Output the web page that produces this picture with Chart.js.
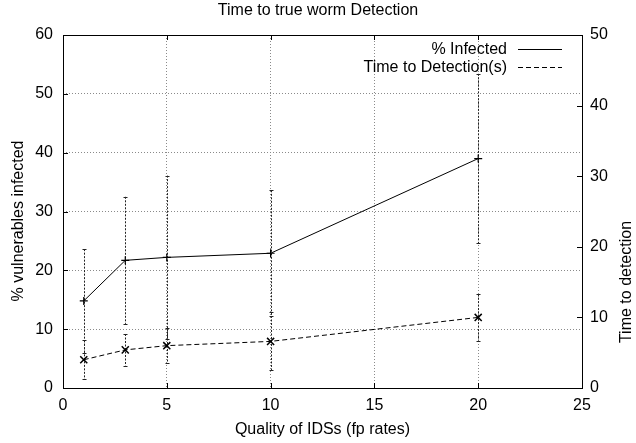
<!DOCTYPE html>
<html>
<head>
<meta charset="utf-8">
<title>Time to true worm Detection</title>
<script src="https://cdn.jsdelivr.net/npm/chart.js@4.4.0/dist/chart.umd.min.js"></script>
<style>
  html, body { margin: 0; padding: 0; background: #fff; }
  #wrap { width: 636px; height: 443px; }
</style>
</head>
<body>
<div id="wrap"><canvas id="wormChart" width="636" height="443"></canvas></div>
<script>
// values
const fpRates = [1, 3, 5, 10, 20];
const infectedPct = [14.8, 21.7, 22.2, 22.9, 39.0];
const infectedErr = [8.8, 10.8, 13.9, 10.7, 14.4];
const detectionSec = [4.0, 5.4, 6.0, 6.6, 10.0];
const detectionErr = [2.75, 2.25, 2.5, 4.1, 3.3];

const xTicks = [0, 5, 10, 15, 20, 25];
const leftTicks = [0, 10, 20, 30, 40, 50, 60];
const rightTicks = [0, 10, 20, 30, 40, 50];

const FONT = "'Liberation Sans', Arial, Helvetica, sans-serif";
Chart.defaults.font.family = FONT;
Chart.defaults.font.size = 16;
Chart.defaults.color = '#000';

function toPoints(xs, ys) {
    return xs.map((x, i) => ({ x: x, y: ys[i] }));
}

// dotted vertical error bars with small caps
const errorBars = {
    id: 'errorBars',
    beforeDatasetsDraw(chart) {
        const ctx = chart.ctx;
        const xScale = chart.scales.x;
        chart.data.datasets.forEach(ds => {
            const yScale = chart.scales[ds.yAxisID];
            ctx.save();
            ctx.strokeStyle = '#222';
            ctx.lineWidth = 1;
            ds.data.forEach((pt, j) => {
                const err = ds.errors[j];
                const px = Math.round(xScale.getPixelForValue(pt.x)) + 0.5;
                const top = yScale.getPixelForValue(pt.y + err);
                const bot = yScale.getPixelForValue(pt.y - err);
                ctx.setLineDash([2, 1.5]);
                ctx.beginPath();
                ctx.moveTo(px, top);
                ctx.lineTo(px, bot);
                ctx.stroke();
                ctx.setLineDash([]);
                ctx.beginPath();
                ctx.moveTo(px - 2, Math.round(top) + 0.5);
                ctx.lineTo(px + 2, Math.round(top) + 0.5);
                ctx.moveTo(px - 2, Math.round(bot) + 0.5);
                ctx.lineTo(px + 2, Math.round(bot) + 0.5);
                ctx.stroke();
            });
            ctx.restore();
        });
    }
};

// gnuplot style frame with inward tick marks
const frame = {
    id: 'frame',
    afterDatasetsDraw(chart) {
        const ctx = chart.ctx;
        const a = chart.chartArea;
        const { x, y, y2 } = chart.scales;
        const len = 5;
        ctx.save();
        ctx.strokeStyle = '#000';
        ctx.lineWidth = 1;
        ctx.setLineDash([]);
        ctx.strokeRect(Math.round(a.left) + 0.5, Math.round(a.top) + 0.5,
            Math.round(a.right - a.left), Math.round(a.bottom - a.top));
        ctx.beginPath();
        x.ticks.forEach(t => {
            const px = Math.round(x.getPixelForValue(t.value)) + 0.5;
            ctx.moveTo(px, a.bottom); ctx.lineTo(px, a.bottom - len);
            ctx.moveTo(px, a.top); ctx.lineTo(px, a.top + len);
        });
        y.ticks.forEach(t => {
            const py = Math.round(y.getPixelForValue(t.value)) + 0.5;
            ctx.moveTo(a.left, py); ctx.lineTo(a.left + len, py);
        });
        y2.ticks.forEach(t => {
            const py = Math.round(y2.getPixelForValue(t.value)) + 0.5;
            ctx.moveTo(a.right, py); ctx.lineTo(a.right - len, py);
        });
        ctx.stroke();
        ctx.restore();
    }
};

// key in the top right corner and the rotated y titles
const keyAndTitles = {
    id: 'keyAndTitles',
    afterDraw(chart) {
        const ctx = chart.ctx;
        const a = chart.chartArea;
        ctx.save();
        ctx.font = '16px ' + FONT;
        ctx.fillStyle = '#000';
        ctx.textBaseline = 'middle';
        ctx.textAlign = 'right';
        chart.data.datasets.forEach((ds, i) => {
            const yy = Math.round(a.top + 14 + i * 17.7) + 0.5;
            ctx.fillText(ds.label, a.right - 75, yy);
            ctx.strokeStyle = '#000';
            ctx.lineWidth = 1;
            ctx.setLineDash(ds.borderDash || []);
            ctx.beginPath();
            ctx.moveTo(a.right - 64, yy);
            ctx.lineTo(a.right - 20, yy);
            ctx.stroke();
        });
        ctx.setLineDash([]);
        ctx.textAlign = 'center';
        const mid = (a.top + a.bottom) / 2;
        ctx.translate(18.5, mid + 9.5);
        ctx.rotate(-Math.PI / 2);
        ctx.fillText('% vulnerables infected', 0, 0);
        ctx.rotate(Math.PI / 2);
        ctx.translate(-18.5, -(mid + 9.5));
        ctx.translate(627, mid + 70.5);
        ctx.rotate(-Math.PI / 2);
        ctx.fillText('Time to detection', 0, 0);
        ctx.restore();
    }
};

function edgeHidden(first, last) {
    return ctx => (ctx.tick && (ctx.tick.value === first || ctx.tick.value === last)) ? 'rgba(0,0,0,0)' : '#8a8a8a';
}

function initChart() {
    const ctx = document.getElementById('wormChart').getContext('2d');
    return new Chart(ctx, {
        type: 'scatter',
        data: {
            datasets: [{
                label: '% Infected',
                data: toPoints(fpRates, infectedPct),
                errors: infectedErr,
                yAxisID: 'y',
                showLine: true,
                borderColor: '#000',
                backgroundColor: '#000',
                borderWidth: 1,
                pointStyle: 'cross',
                pointRadius: 4,
                pointBorderWidth: 1.2,
                tension: 0
            }, {
                label: 'Time to Detection(s)',
                data: toPoints(fpRates, detectionSec),
                errors: detectionErr,
                yAxisID: 'y2',
                showLine: true,
                borderColor: '#000',
                backgroundColor: '#000',
                borderWidth: 1,
                borderDash: [5, 3],
                pointStyle: 'crossRot',
                pointRadius: 5,
                pointBorderWidth: 1.5,
                tension: 0
            }]
        },
        options: {
            responsive: false,
            animation: false,
            events: [],
            layout: { padding: 0 },
            plugins: {
                legend: { display: false },
                tooltip: { enabled: false },
                title: {
                    display: true,
                    text: 'Time to true worm Detection',
                    font: { size: 16, weight: 'normal' },
                    color: '#000',
                    padding: { top: 1, bottom: 14.8 }
                }
            },
            scales: {
                x: {
                    type: 'linear',
                    min: 0,
                    max: 25,
                    afterBuildTicks: s => { s.ticks = xTicks.map(v => ({ value: v })); },
                    afterFit: s => { s.height = 55; },
                    grid: { color: edgeHidden(0, 25), lineWidth: 1, drawTicks: false },
                    border: { display: false, dash: [1, 2] },
                    ticks: { padding: 8, maxRotation: 0, color: '#000' },
                    title: {
                        display: true,
                        text: 'Quality of IDSs (fp rates)',
                        color: '#000',
                        padding: { top: 0, bottom: 3.4 }
                    }
                },
                y: {
                    position: 'left',
                    min: 0,
                    max: 60,
                    afterBuildTicks: s => { s.ticks = leftTicks.map(v => ({ value: v })); },
                    afterFit: s => { s.width = 63; },
                    grid: { color: edgeHidden(0, 60), lineWidth: 1, drawTicks: false },
                    border: { display: false, dash: [1, 2] },
                    ticks: { padding: 10, color: '#000' }
                },
                y2: {
                    position: 'right',
                    min: 0,
                    max: 50,
                    afterBuildTicks: s => { s.ticks = rightTicks.map(v => ({ value: v })); },
                    afterFit: s => { s.width = 54; },
                    grid: { display: false, drawTicks: false },
                    border: { display: false },
                    ticks: { padding: 8, color: '#000' }
                }
            }
        },
        plugins: [errorBars, frame, keyAndTitles]
    });
}

window.addEventListener('load', initChart);
</script>
</body>
</html>
